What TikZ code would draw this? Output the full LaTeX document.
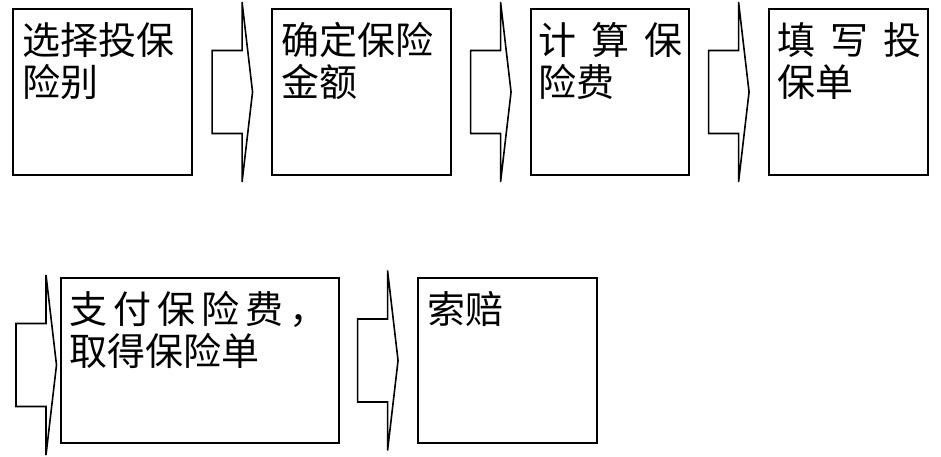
\documentclass[tikz,border=0pt]{standalone}
\usepackage{fontspec}
\newfontfamily\cjk{Noto Sans CJK SC}
\begin{document}
\begin{tikzpicture}[x=1pt,y=-1pt,line join=miter]
	\tikzset{box/.style={draw,line width=1.1pt,rectangle,inner sep=0pt,minimum height=166pt},
		txt/.style={anchor=base west,align=left,inner sep=0pt,font=\cjk\fontsize{38}{42}\selectfont},
		flow/.pic={\draw[line width=1.6pt] (0,-41.5)--(30,-41.5)--(30,-90)--(40.5,0)--(30,90)--(30,41.5)--(0,41.5)--cycle;}}
	\def\gw{\hspace{15pt}} \def\gn{\hspace{6pt}}
	\def\lt{-88.5pt} % baseline of the second line
	\useasboundingbox (0,0) rectangle (941,457);
	% first row
	\node[box,minimum width=179pt] (b1) at (102.5,92) {};
	\node[box,minimum width=179pt] (b2) at (361.5,92) {};
	\node[box,minimum width=158pt] (b3) at (610,92) {};
	\node[box,minimum width=159pt] (b4) at (848.5,92) {};
	% second row
	\node[box,minimum width=278pt,minimum height=165pt] (b5) at (200,360.5) {};
	\node[box,minimum width=179pt,minimum height=165pt] (b6) at (507.5,360.5) {};
	\node[txt] (t1) at ([xshift=10pt,yshift=\lt]b1.north west) {选择投保\\险别};
	\node[txt] (t2) at ([xshift=10pt,yshift=\lt]b2.north west) {确定保险\\金额};
	\node[txt] (t3) at ([xshift=8pt,yshift=\lt]b3.north west) {计\gw 算\gw 保\\险费};
	\node[txt] (t4) at ([xshift=9pt,yshift=\lt]b4.north west) {填\gw 写\gw 投\\保单};
	\node[txt] (t5) at ([xshift=9pt,yshift=\lt]b5.north west) {支\gn 付\gn 保\gn 险\gn 费\gn ，\\取得保险单};
	\node[txt] (t6) at ([xshift=10pt,yshift=-46.5pt]b6.north west) {索赔};
	% arrows
	\pic at ([xshift=19.5pt]b1.east) {flow};
	\pic at ([xshift=19pt]b2.east) {flow};
	\pic at ([xshift=19pt]b3.east) {flow};
	\pic at (16,365) {flow};
	\pic at ([xshift=18pt]b5.east) {flow};
\end{tikzpicture}
\end{document}
